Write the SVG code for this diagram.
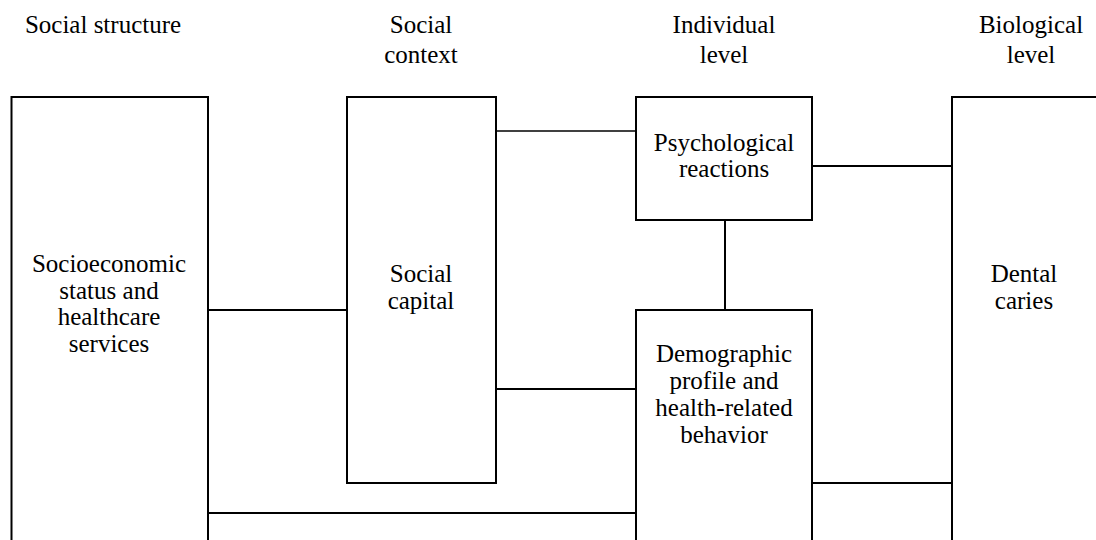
<svg xmlns="http://www.w3.org/2000/svg" width="1096" height="540" viewBox="0 0 1096 540">
<style>
text{font-family:"Liberation Serif","Times New Roman",serif;font-size:25px;fill:#000;text-anchor:middle}
.box{fill:#fff;stroke:#000;stroke-width:2}
.con{stroke:#000;stroke-width:2;fill:none}
.thin{stroke-width:1.3}
</style>
<rect width="1096" height="540" fill="#fff"/>
<g id="headers">
<text x="103" y="33">Social structure</text>
<text x="421" y="33">Social</text>
<text x="421" y="63">context</text>
<text x="724" y="33">Individual</text>
<text x="724" y="63">level</text>
<text x="1031" y="33">Biological</text>
<text x="1031" y="63">level</text>
</g>
<g id="connectors">
<line class="con thin" x1="496" y1="131" x2="636" y2="131"/>
<line class="con" x1="812" y1="166" x2="952" y2="166"/>
<line class="con" x1="725" y1="220" x2="725" y2="310"/>
<line class="con" x1="208" y1="310" x2="347" y2="310"/>
<line class="con" x1="496" y1="389" x2="636" y2="389"/>
<line class="con" x1="812" y1="483" x2="952" y2="483"/>
<line class="con" x1="208" y1="513" x2="636" y2="513"/>
</g>
<g id="socioeconomic">
<rect class="box" x="11.5" y="97" width="196.5" height="460"/>
<text x="109" y="272">Socioeconomic</text>
<text x="109" y="299">status and</text>
<text x="109" y="325">healthcare</text>
<text x="109" y="352">services</text>
</g>
<g id="social-capital">
<rect class="box" x="347" y="97" width="149" height="386"/>
<text x="421" y="282">Social</text>
<text x="421" y="309">capital</text>
</g>
<g id="psychological">
<rect class="box" x="636" y="97" width="176" height="123"/>
<text x="724" y="151">Psychological</text>
<text x="724" y="177">reactions</text>
</g>
<g id="demographic">
<rect class="box" x="636" y="310" width="176" height="250"/>
<text x="724" y="362">Demographic</text>
<text x="724" y="389">profile and</text>
<text x="724" y="416">health-related</text>
<text x="724" y="443">behavior</text>
</g>
<g id="dental">
<rect class="box" x="952" y="97" width="160" height="460"/>
<text x="1024" y="282">Dental</text>
<text x="1024" y="309">caries</text>
</g>
</svg>
